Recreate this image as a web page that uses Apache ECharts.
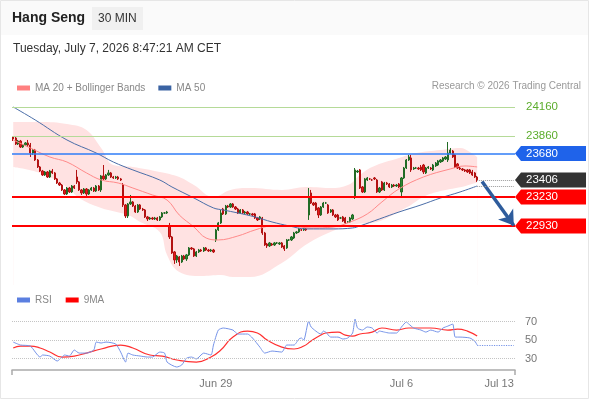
<!DOCTYPE html>
<html>
<head>
<meta charset="utf-8">
<script src="https://cdn.jsdelivr.net/npm/echarts@6/dist/echarts.min.js"></script>
<style>
html, body { margin: 0; padding: 0; background: #fff; }
#main { width: 590px; height: 400px; }
</style>
</head>
<body>
<div id="main"></div>
<script>
var myChart = echarts.init(document.getElementById('main'))

// 30 分钟K线：横轴槽位数（含右侧空白）与日期标签
var slotCount = 206
var labelIdx = [83, 159, 199]
var labelText = ['Jun 29', 'Jul 6', 'Jul 13']

// [open, close, low, high]
var candles = [
  [23850,23829,23808,23860],[23839,23777,23767,23850],[23777,23808,23767,23819],[23808,23746,23736,23819],[23746,23767,23736,23777],
  [23767,23788,23757,23798],[23788,23767,23746,23819],[23767,23684,23643,23788],[23684,23715,23664,23726],[23715,23612,23602,23726],
  [23612,23540,23529,23622],[23540,23498,23488,23550],[23498,23457,23447,23509],[23457,23488,23447,23498],[23488,23436,23426,23498],
  [23436,23498,23426,23509],[23498,23478,23467,23519],[23478,23416,23405,23488],[23416,23374,23364,23426],[23374,23353,23343,23385],
  [23353,23302,23291,23364],[23302,23260,23250,23312],[23260,23322,23250,23333],[23322,23281,23271,23333],[23281,23343,23271,23353],
  [23343,23322,23312,23353],[23436,23385,23364,23509],[23385,23302,23291,23395],[23302,23271,23250,23312],[23271,23312,23260,23322],
  [23312,23260,23240,23322],[23260,23302,23250,23312],[23302,23322,23291,23333],[23322,23291,23281,23333],[23291,23343,23281,23353],
  [23343,23302,23291,23353],[23302,23447,23281,23457],[23447,23416,23405,23560],[23416,23457,23405,23467],[23457,23478,23447,23509],
  [23478,23436,23426,23488],[23436,23426,23416,23447],[23426,23436,23416,23447],[23436,23416,23405,23447],[23416,23405,23395,23426],
  [23353,23147,23126,23374],[23147,23033,23012,23157],[23033,23157,23012,23167],[23157,23178,23147,23250],[23178,23136,23126,23188],
  [23136,23074,23064,23147],[23074,23147,23064,23157],[23147,23105,23095,23157],[23105,23095,23085,23116],[23095,23023,23012,23105],
  [23023,23002,22981,23033],[23002,23012,22992,23023],[23012,23002,22992,23023],[23002,23012,22992,23023],[23012,22992,22981,23023],
  [22992,23023,22981,23033],[23023,23064,23012,23074],[23064,23064,23054,23074],[23064,23074,23054,23085],[22930,22816,22795,22961],
  [22816,22650,22640,22826],[22661,22578,22537,22671],[22578,22619,22547,22630],[22609,22557,22516,22619],[22557,22619,22547,22630],
  [22619,22588,22578,22630],[22588,22630,22568,22640],[22630,22702,22619,22712],[22702,22692,22681,22712],[22692,22619,22609,22702],
  [22619,22661,22609,22671],[22661,22681,22650,22692],[22681,22671,22661,22692],[22671,22702,22661,22712],[22702,22681,22671,22712],
  [22681,22671,22661,22692],[22671,22681,22661,22692],[22681,22661,22650,22692],[22785,22888,22764,22899],[22888,22961,22878,22971],
  [22961,23064,22950,23095],[23105,23054,23043,23116],[23054,23136,23043,23147],[23136,23126,23116,23147],[23126,23157,23116,23167],
  [23157,23126,23116,23167],[23126,23105,23095,23136],[23105,23064,23054,23116],[23064,23095,23054,23105],[23095,23064,23054,23105],
  [23064,23074,23054,23085],[23074,23054,23043,23085],[23054,23054,23043,23064],[23054,23043,23033,23064],[23054,23012,23002,23064],
  [23012,22992,22981,23023],[23002,23023,22992,23033],[23012,22857,22837,23023],[22857,22733,22723,22868],[22743,22723,22702,22754],
  [22723,22754,22712,22764],[22743,22733,22723,22754],[22733,22754,22723,22764],[22754,22754,22743,22764],[22743,22754,22733,22764],
  [22754,22712,22702,22764],[22723,22692,22671,22733],[22702,22785,22692,22795],[22785,22785,22774,22795],[22785,22816,22774,22826],
  [22805,22857,22795,22868],[22857,22868,22847,22878],[22868,22899,22857,22909],[22888,22888,22878,22899],[22888,22899,22878,22909],
  [22899,22888,22878,22909],[23043,23229,22992,23322],[23271,23167,23157,23302],[23167,23147,23136,23178],[23167,23095,23085,23178],
  [23116,23043,23012,23126],[23043,23126,23033,23136],[23126,23167,23116,23178],[23167,23167,23157,23178],[23147,23064,23054,23157],
  [23074,23095,23064,23105],[23095,23043,23033,23105],[23043,23023,23012,23054],[23043,22992,22981,23054],[23012,23012,23002,23023],
  [23023,22981,22971,23033],[23012,22961,22950,23023],[22971,22971,22961,22981],[22971,23012,22961,23023],[23002,23043,22992,23054],
  [23229,23509,23209,23529],[23488,23498,23478,23509],[23509,23322,23312,23519],[23333,23281,23271,23343],[23281,23416,23271,23426],
  [23405,23426,23395,23436],[23416,23416,23405,23426],[23405,23405,23395,23416],[23426,23416,23405,23436],[23405,23281,23271,23416],
  [23281,23322,23271,23333],[23385,23302,23291,23395],[23302,23374,23291,23385],[23374,23364,23353,23385],[23364,23333,23322,23374],
  [23333,23353,23322,23364],[23353,23343,23333,23364],[23343,23353,23333,23364],[23364,23333,23322,23374],[23281,23426,23229,23436],
  [23426,23529,23416,23540],[23529,23612,23519,23622],[23612,23643,23602,23664],[23633,23509,23488,23664],[23519,23529,23509,23540],
  [23529,23529,23519,23540],[23529,23519,23509,23540],[23540,23509,23498,23560],[23560,23488,23467,23571],[23478,23529,23467,23540],
  [23529,23540,23519,23550],[23529,23519,23509,23540],[23509,23560,23498,23571],[23550,23581,23540,23591],[23560,23602,23550,23612],
  [23591,23612,23581,23622],[23602,23633,23591,23643],[23622,23643,23612,23653],[23612,23684,23591,23798],[23684,23715,23674,23736],
  [23705,23643,23633,23715],[23664,23540,23529,23674],[23571,23529,23519,23581],[23529,23519,23509,23540],[23519,23509,23498,23529],
  [23509,23498,23488,23519],[23509,23488,23478,23519],[23509,23478,23467,23519],[23488,23457,23447,23509],[23478,23436,23426,23488],
  [23436,23406,23385,23447]
]

// 均线与布林带 [槽位, 价格]
var ma20 = [[0,23819],[7,23736],[15,23643],[22,23591],[30,23478],[36,23405],[43,23374],[49,23322],[57,23250],[63,23198],
  [68,23043],[74,22919],[79,22805],[84,22785],[92,22826],[99,22888],[106,22930],[113,22930],[122,22909],[131,22919],
  [138,22971],[145,23054],[151,23178],[158,23313],[168,23436],[179,23519],[185,23550],[190,23540]]
var ma50 = [[0,24160],[9,24026],[22,23819],[34,23684],[41,23591],[49,23509],[60,23405],[65,23333],[74,23219],[82,23116],
  [86,23095],[92,23064],[99,23023],[106,22971],[113,22930],[120,22899],[131,22899],[139,22909],[142,22930],[150,23002],
  [158,23074],[167,23147],[175,23219],[183,23281],[190,23343]]
var bbUpper = [[0,24005],[11,24005],[22,23984],[30,23922],[36,23736],[41,23560],[49,23540],[60,23488],[68,23436],[74,23353],
  [82,23229],[89,23302],[97,23322],[110,23302],[120,23333],[131,23322],[138,23364],[141,23436],[147,23540],[158,23633],
  [165,23684],[175,23715],[183,23736],[187,23695],[190,23643]]
var bbLower = [[0,23540],[11,23478],[22,23333],[27,23219],[36,23116],[47,23043],[52,22971],[60,22868],[63,22630],[68,22454],
  [77,22413],[85,22423],[90,22402],[97,22402],[110,22547],[121,22754],[135,22919],[141,22950],[147,22960],[161,23120],
  [168,23230],[175,23290],[183,23330],[190,23380]]

// RSI 及其 9 期均线 [槽位, 值]
var rsi = [[0,47.8],[3,44.6],[7,43.5],[11,31.6],[12,33.8],[15,32.7],[18,27.3],[20,31.6],[21,33.8],[23,32.7],[25,39.2],[27,35.9],
  [30,35.9],[33,39.2],[34,47.8],[36,46.8],[38,47.8],[42,45.7],[44,37.0],[46,26.2],[47,35.9],[49,33.8],[52,32.7],[55,31.6],
  [57,31.6],[60,37.0],[62,35.9],[63,26.2],[67,20.8],[69,23.0],[71,30.5],[73,31.6],[75,29.5],[78,35.9],[81,33.8],[82,44.6],
  [84,60.8],[86,63.0],[90,60.8],[92,56.5],[96,56.5],[98,52.2],[101,42.4],[103,35.9],[106,38.1],[110,37.0],[112,44.6],[115,44.6],
  [117,51.1],[118,52.2],[119,50.0],[121,70.5],[122,64.1],[126,56.5],[127,59.7],[128,58.6],[130,53.2],[133,53.2],[135,51.1],
  [137,52.2],[139,57.6],[140,72.7],[141,63.0],[143,60.8],[145,64.1],[147,63.0],[149,57.6],[150,59.7],[152,58.6],[154,57.6],
  [157,57.6],[159,64.1],[161,69.5],[162,67.3],[164,63.0],[167,60.8],[169,58.6],[171,60.8],[174,58.6],[176,63.0],[178,65.1],
  [180,67.3],[181,53.2],[183,53.2],[187,52.2],[189,48.9],[190,44.6]]
var rsiMa = [[0,41.4],[3,43.5],[7,43.5],[11,41.4],[15,37.0],[20,31.6],[25,32.7],[30,35.9],[36,40.3],[44,44.6],[49,41.4],
  [56,33.8],[61,32.7],[67,28.4],[75,26.2],[81,31.6],[85,39.2],[90,53.2],[96,59.7],[100,57.6],[104,50.0],[110,42.4],[115,40.3],
  [119,43.5],[122,48.9],[126,55.4],[128,57.6],[133,58.6],[136,55.4],[139,54.3],[142,56.5],[147,58.6],[151,63.0],[157,60.8],
  [162,63.0],[171,63.0],[178,60.8],[182,61.9],[186,59.7],[190,54.3]]
var rsiLevels = [70, 50, 30]

// 关键价位（阻力/支撑/现价）与预测箭头
var levels = [24160, 23860, 23680, 23406, 23230, 22930]
var lastMa50 = 23343
var arrowFrom = [192, 23390]
var arrowTo = [205, 22935]

var levelLine = ['#b5da98', '#b5da98', '#2f7df7', null, '#ff0000', '#ff0000']
var levelWidth = [1, 1, 1.5, 0, 2, 2]
var tagFill = [null, null, '#1f63ea', '#333333', '#ff0000', '#ff0000']
var tagText = ['#5cad2c', '#5cad2c', '#fff', '#fff', '#fff', '#fff']
var font = 'Liberation Sans, Arial, sans-serif'

var categories = []
for (var i = 0; i < slotCount; i++) categories.push(String(i))

var option = {
  animation: false,
  textStyle: { fontFamily: font },
  graphic: [
    { type: 'rect', shape: { x: 0.5, y: 0.5, width: 588, height: 398 }, style: { fill: 'none', stroke: '#e6e6e6' } },
    { type: 'rect', shape: { x: 1, y: 1, width: 587, height: 34 }, style: { fill: '#fafafa' } },
    { type: 'rect', shape: { x: 92, y: 7, width: 51, height: 23 }, style: { fill: '#f0f0f0' } },
    { type: 'text', x: 12, y: 18.5, style: { text: 'Hang Seng', fill: '#222', font: 'bold 14px ' + font, verticalAlign: 'middle' } },
    { type: 'text', x: 98, y: 18.5, style: { text: '30 MIN', fill: '#333', font: '12px ' + font, verticalAlign: 'middle' } },
    { type: 'text', x: 13, y: 49, style: { text: 'Tuesday, July 7, 2026 8:47:21 AM CET', fill: '#333', font: '12px ' + font, verticalAlign: 'middle' } },
    { type: 'text', x: 581, y: 86, style: { text: 'Research \u00a9 2026 Trading Central', fill: '#999', font: '10px ' + font, align: 'right', verticalAlign: 'middle' } }
  ],
  legend: [
    {
      data: ['MA 20 + Bollinger Bands', 'MA 50'], left: 12, top: 78, icon: 'rect',
      itemWidth: 13, itemHeight: 5, itemGap: 13, selectedMode: false,
      textStyle: { color: '#888', fontSize: 10, fontFamily: font }
    },
    {
      data: ['RSI', '9MA'], left: 12, top: 290, icon: 'rect',
      itemWidth: 13, itemHeight: 5, itemGap: 14, selectedMode: false,
      textStyle: { color: '#888', fontSize: 10, fontFamily: font }
    }
  ],
  grid: [
    { left: 12, right: 75, top: 95, bottom: 115 },
    { left: 12, right: 75, top: 305, bottom: 30 }
  ],
  xAxis: [
    { type: 'category', data: categories, gridIndex: 0, show: false },
    {
      type: 'category', data: categories, gridIndex: 1,
      axisLine: { lineStyle: { color: '#aaa', width: 1.5 } },
      axisTick: { show: true, length: 5, interval: function (index) { return index === 0 }, lineStyle: { color: '#aaa', width: 1.5 } },
      axisLabel: {
        interval: function (index) { return labelIdx.indexOf(index) >= 0 },
        formatter: function (value, index) { var k = labelIdx.indexOf(index); return k >= 0 ? labelText[k] : '' },
        color: '#777', fontSize: 11, margin: 8
      }
    }
  ],
  yAxis: [
    { type: 'value', gridIndex: 0, min: 22319, max: 24284, show: false },
    { type: 'value', gridIndex: 1, min: 17.6, max: 87.9, show: false }
  ],
  series: [
    {
      name: 'bbUpper', type: 'line', data: bbUpper, smooth: 0.4, showSymbol: false, silent: true, z: 1,
      lineStyle: { width: 0 }, areaStyle: { color: '#ffe2e2', opacity: 1, origin: 'start' }
    },
    {
      name: 'bbLower', type: 'line', data: bbLower, smooth: 0.4, showSymbol: false, silent: true, z: 1,
      lineStyle: { width: 0 }, areaStyle: { color: '#ffffff', opacity: 1, origin: 'start' }
    },
    {
      name: 'Hang Seng', type: 'candlestick', data: candles, barWidth: '72%', z: 3,
      itemStyle: { color: '#2c8a30', color0: '#e51b1b', borderColor: '#226b25', borderColor0: '#b31212', borderWidth: 1 },
      markLine: {
        silent: true, symbol: ['none', 'none'], label: { show: false },
        data: levels.map(function (p, k) {
          return levelLine[k] ? { yAxis: p, lineStyle: { color: levelLine[k], width: levelWidth[k], type: 'solid', opacity: 1 } } : null
        }).filter(Boolean)
      }
    },
    {
      name: 'MA 20 + Bollinger Bands', type: 'line', data: ma20, smooth: 0.4, showSymbol: false, z: 4,
      itemStyle: { color: '#ff8080' }, lineStyle: { color: '#ff8a8a', width: 1 },
      markLine: {
        silent: true, symbol: ['none', 'arrow'], symbolSize: 14, label: { show: false },
        lineStyle: { color: '#2e5c9c', width: 3.5, type: 'solid' },
        data: [[{ coord: arrowFrom }, { coord: arrowTo }]]
      }
    },
    {
      name: 'MA 50', type: 'line', data: ma50, smooth: 0.4, showSymbol: false, z: 4,
      itemStyle: { color: '#3a63a3' }, lineStyle: { color: '#4b6ea8', width: 1 },
      markLine: {
        silent: true, symbol: ['none', 'none'], label: { show: false },
        lineStyle: { color: '#999', width: 1, type: 'dotted' },
        data: [
          [{ coord: [candles.length - 1, levels[3]] }, { coord: [slotCount - 1, levels[3]] }],
          [{ coord: [candles.length - 1, lastMa50] }, { coord: [slotCount - 1, lastMa50] }]
        ]
      }
    },
    {
      name: 'tags', type: 'custom', silent: true, z: 6, clip: false,
      data: levels.map(function (p) { return [0, p] }),
      renderItem: function (params, api) {
        var k = params.dataIndex
        var y = api.coord([0, api.value(1)])[1]
        var x0 = params.coordSys.x + params.coordSys.width
        var children = []
        if (tagFill[k]) {
          children.push({
            type: 'polygon',
            shape: { points: [[x0, y], [x0 + 6, y - 7.5], [x0 + 71, y - 7.5], [x0 + 71, y + 7.5], [x0 + 6, y + 7.5]] },
            style: { fill: tagFill[k] }
          })
        }
        children.push({
          type: 'text',
          style: { x: x0 + 11, y: y, text: String(levels[k]), fill: tagText[k], font: '11.5px ' + font, verticalAlign: 'middle' }
        })
        return { type: 'group', children: children }
      }
    },
    {
      name: 'RSI', type: 'line', xAxisIndex: 1, yAxisIndex: 1, data: rsi, smooth: 0.2, showSymbol: false, z: 4,
      itemStyle: { color: '#5b7fe0' }, lineStyle: { color: '#7593e8', width: 1 },
      markLine: {
        silent: true, symbol: ['none', 'none'],
        data: rsiLevels.map(function (v) {
          return {
            yAxis: v, lineStyle: { color: '#c4c4c4', width: 1, type: 'dotted' },
            label: { show: true, position: 'end', distance: 10, formatter: String(v), color: '#777', fontSize: 11 }
          }
        }).concat([[
          { coord: [rsi[rsi.length - 1][0], rsi[rsi.length - 1][1]], lineStyle: { color: '#7593e8', width: 1.2, type: 'dotted' }, label: { show: false } },
          { coord: [slotCount - 1, rsi[rsi.length - 1][1]] }
        ]])
      }
    },
    {
      name: '9MA', type: 'line', xAxisIndex: 1, yAxisIndex: 1, data: rsiMa, smooth: 0.5, showSymbol: false, z: 3,
      itemStyle: { color: '#ff0000' }, lineStyle: { color: '#ff3030', width: 1.2 }
    }
  ]
}

myChart.setOption(option)
</script>
</body>
</html>
